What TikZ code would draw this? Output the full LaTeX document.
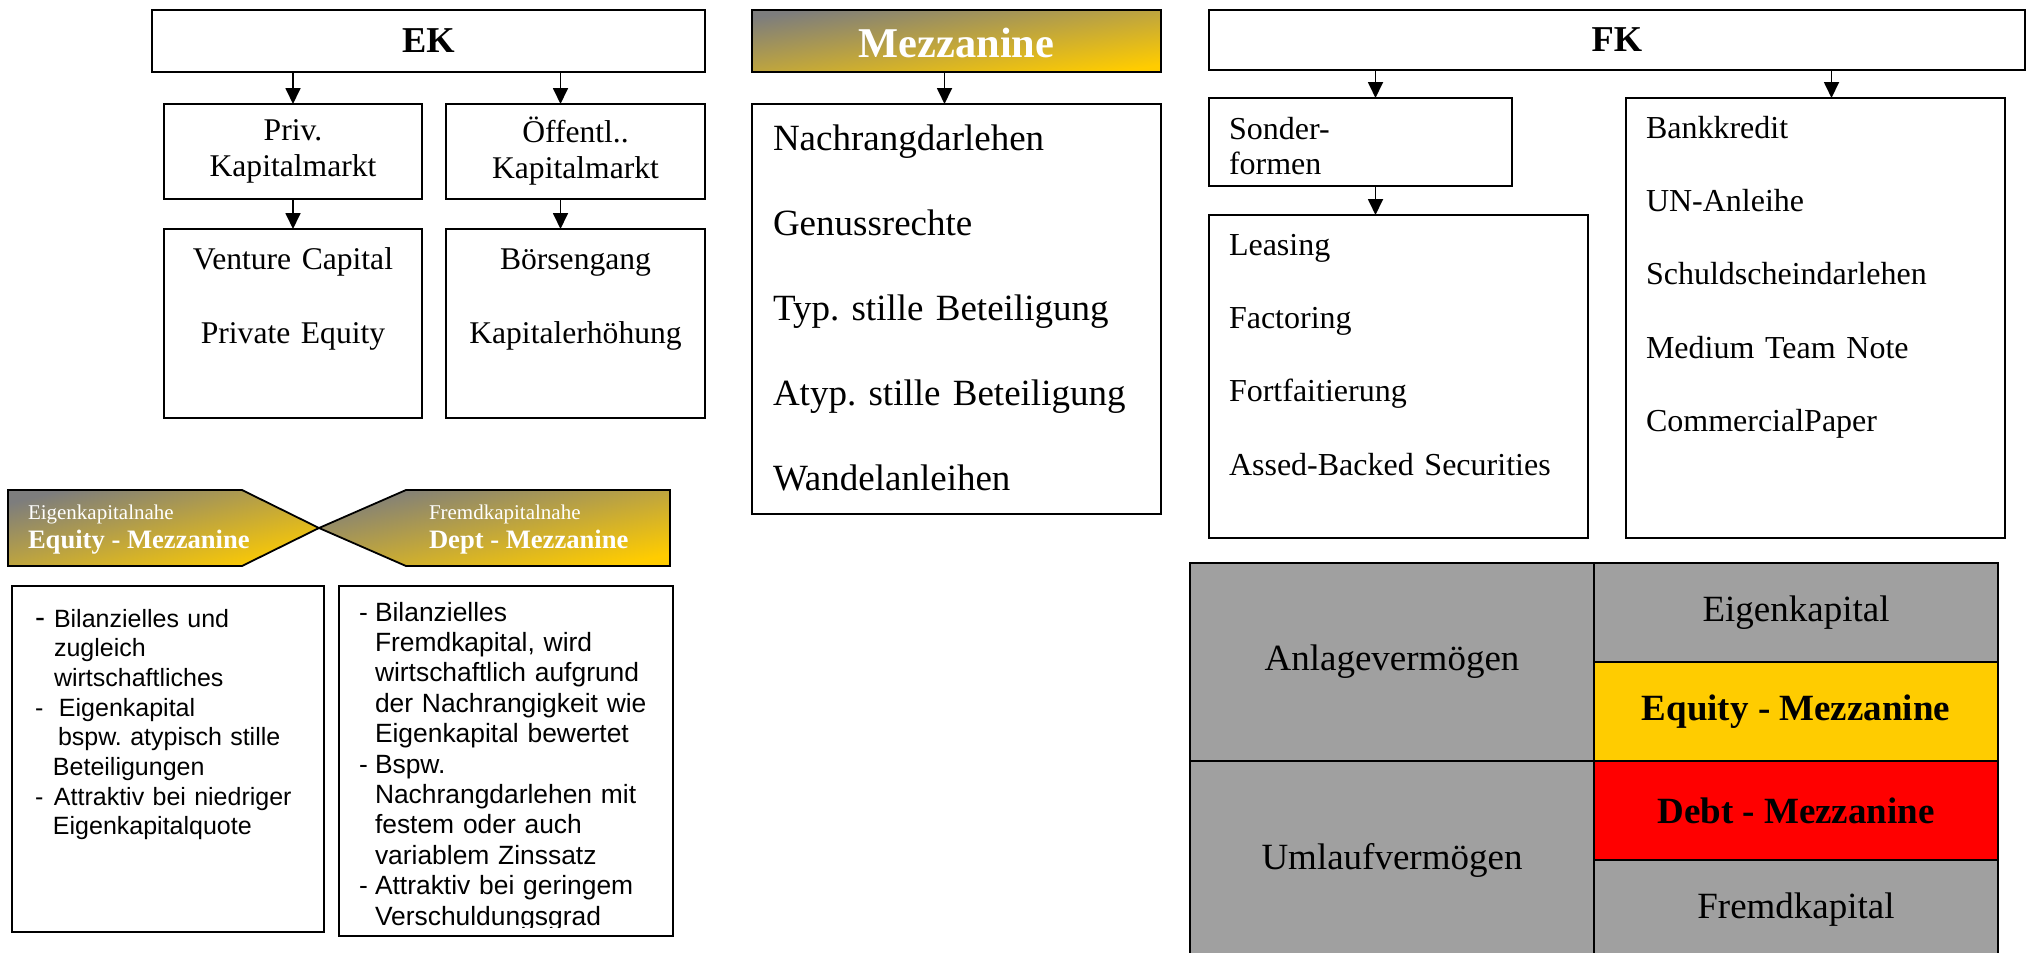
\documentclass[tikz,border=0pt]{standalone}
\usepackage{fontspec}
\setmainfont{Liberation Serif}
\setsansfont{Liberation Sans}
\usetikzlibrary{positioning,arrows.meta}

\definecolor{mezzgray}{RGB}{125,125,125}
\definecolor{mezzyellow}{RGB}{255,204,0}
\definecolor{cellgray}{RGB}{160,160,160}
\definecolor{cellred}{RGB}{255,0,0}

\newcommand{\fsz}[2]{\fontsize{#1}{#2}\selectfont}
\frenchspacing

\begin{document}
\begin{tikzpicture}[x=0.5pt, y=-0.5pt, >={Triangle[length=8pt, width=7.5pt]}]
        \tikzstyle{every node}=[inner sep=0pt, outer sep=0pt]
        \tikzstyle{box}=[draw, line width=0.9pt, anchor=north west]
        \tikzstyle{headbox}=[box, minimum height=31pt, font=\bfseries\fsz{18.2}{20}]
        \tikzstyle{mezzfill}=[top color=mezzgray, bottom color=mezzyellow]
        \tikzstyle{link}=[->, line width=0.9pt]
        \tikzstyle{itemlist}=[anchor=base west, align=left]
        \tikzstyle{notetext}=[itemlist, font=\sffamily\fsz{12.5}{14.85}]
        \tikzstyle{hexatext}=[anchor=base west, text=white]
        \tikzstyle{cell}=[draw, line width=1.3pt, minimum width=202pt, minimum height=49.5pt, font=\fsz{18.5}{20}]

        \useasboundingbox (0,0) rectangle (2031,953);

        \node (ek)      [headbox, minimum width=276.5pt] at (152,10) {EK};
        \node (priv)    [box, minimum width=129pt, minimum height=47.5pt, align=center, font=\fsz{15.8}{18}] at (164,104) {Priv.\\Kapitalmarkt};
        \node (oeff)    [box, minimum width=129.5pt, minimum height=47.5pt, align=center, font=\fsz{15.8}{18}] at (446,104) {Öffentl..\\Kapitalmarkt};
        \node (venture) [box, minimum width=129pt, minimum height=94.5pt] at (164,229) {};
        \node (boerse)  [box, minimum width=129.5pt, minimum height=94.5pt] at (446,229) {};
        \node (venturetext) [anchor=base, text width=125pt, align=center, font=\fsz{15.8}{37}] at (293,269) {Venture Capital\\Private Equity};
        \node (boersetext)  [anchor=base, text width=125pt, align=center, font=\fsz{15.8}{37}] at (575.5,269) {Börsengang\\Kapitalerhöhung};

        \draw[link] (priv.north |- ek.south) -- (priv.north);
        \draw[link] ([xshift=-7.5pt]oeff.north |- ek.south) -- ([xshift=-7.5pt]oeff.north);
        \draw[link] (priv) -- (venture);
        \draw[link] ([xshift=-7.5pt]oeff.south) -- ([xshift=-7.5pt]boerse.north);

        \node (mezz)    [headbox, mezzfill, shading angle=8.6, minimum width=204.5pt, text height=17pt, text=white, font=\bfseries\fsz{21.2}{24}] at (752,10) {Mezzanine};
        \node (mzbox)   [box, minimum width=204.5pt, minimum height=205pt] at (752,104) {};
        \node (mzlist)  [itemlist, text width=190pt, font=\fsz{18.5}{42.5}] at (773,150) {Nachrangdarlehen\\Genussrechte\\Typ. stille Beteiligung\\Atyp. stille Beteiligung\\Wandelanleihen};

        \draw[link] ([xshift=-6pt]mezz.south) -- ([xshift=-6pt]mzbox.north);

        \node (fk)      [headbox, minimum width=408pt, minimum height=30pt] at (1209,10) {FK};
        \node (sonder)  [box, minimum width=151.5pt, minimum height=44pt] at (1209,98) {};
        \node (sondertext) [itemlist, text width=140pt, font=\fsz{16}{17.5}] at (1229,139) {Sonder-\\formen};
        \node (sonderbox) [box, minimum width=189.5pt, minimum height=161.5pt] at (1209,215) {};
        \node (sonderlist) [itemlist, text width=175pt, font=\fsz{16}{36.7}] at (1229,255) {Leasing\\Factoring\\Fortfaitierung\\Assed-Backed Securities};
        \node (bank)    [box, minimum width=189.5pt, minimum height=220pt] at (1626,98) {};
        \node (banklist) [itemlist, text width=175pt, font=\fsz{16}{36.7}] at (1646,138) {Bankkredit\\UN-Anleihe\\Schuldscheindarlehen\\Medium Team Note\\CommercialPaper};

        \draw[link] ([xshift=7.5pt]sonder.north |- fk.south) -- ([xshift=7.5pt]sonder.north);
        \draw[link] ([xshift=7.5pt]sonder.south) -- ([xshift=7.5pt]sonder.south |- sonderbox.north);
        \draw[link] ([xshift=8pt]bank.north |- fk.south) -- ([xshift=8pt]bank.north);

        \path[draw, line width=0.9pt, mezzfill, shading angle=13.7]
            (8,490) -- (242,490) -- (319,528) -- (242,566) -- (8,566) -- cycle;
        \path[draw, line width=0.9pt, mezzfill, shading angle=12.2]
            (319,528) -- (406,490) -- (670,490) -- (670,566) -- (406,566) -- cycle;
        \node (eknahe)  [hexatext, font=\fsz{10.5}{12}] at (28,519) {Eigenkapitalnahe};
        \node (eqmezz)  [hexatext, font=\bfseries\fsz{13.3}{15}] at (28,548) {Equity - Mezzanine};
        \node (fknahe)  [hexatext, font=\fsz{10.5}{12}] at (429,519) {Fremdkapitalnahe};
        \node (dtmezz)  [hexatext, font=\bfseries\fsz{13.3}{15}] at (429,548) {Dept - Mezzanine};

        \node (eknote)  [box, minimum width=156pt, minimum height=173pt] at (12,586) {};
        \node (eknotetext) [notetext, text width=150pt] at (35,627) {\makebox[9.5pt][l]{\fsz{15}{15}-}Bilanzielles und\\
            \hspace*{9.5pt}zugleich\\
            \hspace*{9.5pt}wirtschaftliches\\
            \makebox[12pt][l]{-}Eigenkapital\\
            \hspace*{11.5pt}bspw. atypisch stille\\
            \hspace*{9pt}Beteiligungen\\
            \makebox[9.5pt][l]{-}Attraktiv bei niedriger\\
            \hspace*{9pt}Eigenkapitalquote};
        \node (fknote)  [box, minimum width=167pt, minimum height=175pt] at (339,586) {};
        \begin{scope}
            \clip (fknote.north west) rectangle ([yshift=4.5pt]fknote.south east);
            \node (fknotetext) [notetext, text width=160pt, font=\sffamily\fsz{13.2}{15.2}] at (359,621) {\makebox[8pt][l]{-}Bilanzielles\\
                \hspace*{8pt}Fremdkapital, wird\\
                \hspace*{8pt}wirtschaftlich aufgrund\\
                \hspace*{8pt}der Nachrangigkeit wie\\
                \hspace*{8pt}Eigenkapital bewertet\\
                \makebox[8pt][l]{-}Bspw.\\
                \hspace*{8pt}Nachrangdarlehen mit\\
                \hspace*{8pt}festem oder auch\\
                \hspace*{8pt}variablem Zinssatz\\
                \makebox[8pt][l]{-}Attraktiv bei geringem\\
                \hspace*{8pt}Verschuldungsgrad};
        \end{scope}

        \node (anlage)   [cell, fill=cellgray, minimum height=99pt, anchor=north west] at (1190,563) {Anlagevermögen};
        \node (umlauf)   [cell, fill=cellgray, minimum height=99pt, below=0pt of anlage] {Umlaufvermögen};
        \node (eigen)    [cell, fill=cellgray, right=0pt of anlage.north east, anchor=north west] {Eigenkapital};
        \node (eqcell)   [cell, fill=mezzyellow, font=\bfseries\fsz{18.5}{20}, below=0pt of eigen] {Equity - Mezzanine};
        \node (debtcell) [cell, fill=cellred, font=\bfseries\fsz{18.5}{20}, below=0pt of eqcell] {Debt - Mezzanine};
        \node (fremd)    [cell, fill=cellgray, below=0pt of debtcell] {Fremdkapital};

    \end{tikzpicture}
\end{document}
